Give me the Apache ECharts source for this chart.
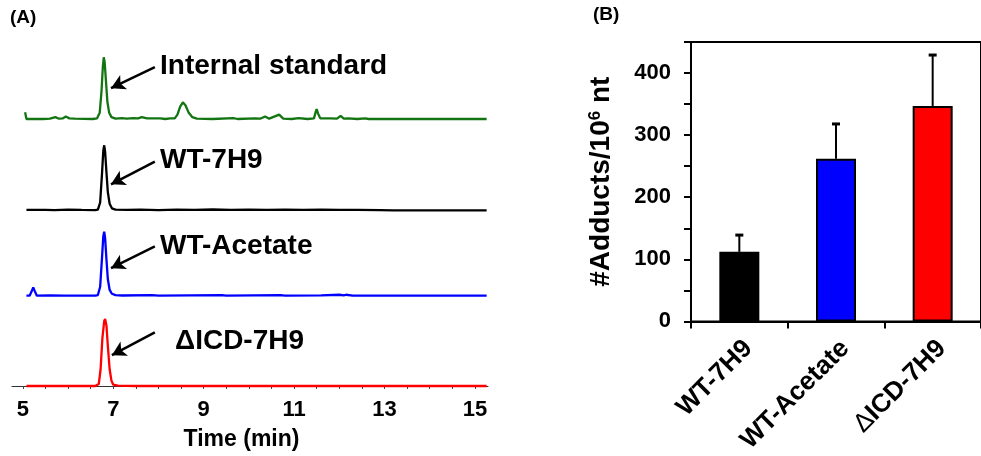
<!DOCTYPE html>
<html>
<head>
<meta charset="utf-8">
<script src="https://cdn.jsdelivr.net/npm/echarts@6/dist/echarts.min.js"></script>
<style>
  html, body { margin: 0; padding: 0; background: #fff; }
  #chart { width: 981px; height: 456px; }
</style>
</head>
<body>
<div id="chart"></div>
<script>
// ---- Panel A: chromatograms, [time (min), relative intensity (%)] ----
const standardTrace = [
  [5.05, 11], [5.08, 0], [5.45, 0], [5.6, 0.5], [5.72, 3], [5.8, 0.5], [5.88, 1], [5.95, 4],
  [6.03, 1], [6.15, 0.5], [6.55, 0], [6.64, 1], [6.70, 10], [6.74, 45], [6.77, 85], [6.79, 100],
  [6.81, 92], [6.84, 60], [6.87, 28], [6.91, 10], [6.96, 3], [7.05, 0.5], [7.19, 1.5], [7.3, 0.5],
  [7.44, 1.5], [7.55, 1], [7.63, 3], [7.75, 1], [8.04, 1], [8.15, 0], [8.26, 1], [8.36, 1],
  [8.42, 7], [8.48, 20], [8.54, 27], [8.6, 22], [8.67, 10], [8.75, 3], [8.85, 0.5], [9.2, 0],
  [9.66, 1.5], [9.75, 0], [10.14, 1], [10.25, 0.5], [10.36, 4], [10.45, 0.5], [10.67, 7],
  [10.76, 0.5], [10.95, 0], [11.1, 1.5], [11.3, 0], [11.44, 1], [11.48, 12], [11.5, 16],
  [11.53, 9], [11.58, 1], [11.8, 1], [11.95, 0.5], [12.03, 5], [12.1, 0.5], [12.2, 1],
  [12.4, 0], [12.57, 1], [12.65, 0], [15.26, 0]
];
const wt7h9Trace = [
  [5.08, 0.5], [5.5, 0.8], [5.7, 0.3], [6.0, 1], [6.3, 0.5], [6.6, 0.3], [6.66, 1], [6.71, 12],
  [6.75, 55], [6.78, 92], [6.80, 100], [6.82, 90], [6.85, 58], [6.88, 28], [6.92, 10], [6.97, 3],
  [7.05, 1], [7.3, 0.5], [7.6, 1], [8.0, 0.4], [8.4, 1], [8.8, 0.5], [9.2, 1.2], [9.6, 0.5],
  [10.0, 1], [10.4, 0.6], [10.8, 1], [11.2, 0.5], [11.6, 1], [12.0, 0.5], [12.4, 0.8],
  [12.9, 0.3], [13.2, 0], [15.26, 0]
];
const wtAcetateTrace = [
  [5.08, 0], [5.15, 0], [5.19, 6], [5.23, 13], [5.27, 6], [5.31, 0], [5.6, 0.5], [5.9, 0],
  [6.6, 0], [6.66, 1], [6.71, 14], [6.75, 58], [6.78, 93], [6.80, 100], [6.82, 90], [6.85, 56],
  [6.88, 26], [6.92, 9], [6.97, 3], [7.05, 1], [7.2, 0.3], [7.86, 1], [8.0, 0], [9.4, 0.8],
  [9.5, 0], [10.7, 0.8], [10.8, 0], [11.6, 0.5], [12.0, 1.5], [12.1, 0.5], [12.15, 1.5],
  [12.3, 0], [15.26, 0]
];
const dIcdTrace = [
  [5.08, 0], [6.6, 0], [6.68, 3], [6.72, 25], [6.76, 72], [6.80, 97], [6.82, 100], [6.85, 90],
  [6.88, 60], [6.92, 25], [6.96, 8], [7.0, 2], [7.1, 0.5], [7.5, 0], [15.26, 0]
];
const traceNames = ['Internal standard', 'WT-7H9', 'WT-Acetate', 'ΔICD-7H9'];
const timeTicks = [5, 5.5, 6, 6.5, 7, 7.5, 8, 8.5, 9, 9.5, 10, 10.5, 11, 11.5, 12, 12.5, 13, 13.5, 14, 14.5, 15];
const timeLabels = [5, 7, 9, 11, 13, 15];

// ---- Panel B: adduct counts ----
const groups = ['WT-7H9', 'WT-Acetate', 'ΔICD-7H9'];
const adducts = [112, 262, 347];
const adductErrors = [27, 56, 82];

const FONT = '"Liberation Sans", Arial, Helvetica, sans-serif';
const traceColors = ['#127512', '#000000', '#0000ff', '#ff0000'];
const barColors = ['#000000', '#0000ff', '#ff0000'];

// one strip per chromatogram, stacked top to bottom
const traceBoxes = [
  { top: 57.3, height: 61.7 },
  { top: 145.3, height: 65 },
  { top: 231.7, height: 64 },
  { top: 319, height: 67 }
];
const traceData = [standardTrace, wt7h9Trace, wtAcetateTrace, dIcdTrace];
const arrowEnds = [
  [[7.92, 84], [6.95, 50]],
  [[7.92, 75], [6.95, 40]],
  [[7.92, 77], [6.95, 43]],
  [[7.92, 80], [6.97, 46]]
];
const labelSpots = [
  { x: 160, y: 66 }, { x: 160, y: 160 }, { x: 160, y: 246 }, { x: 175, y: 341 }
];

const grids = [];
const xAxes = [];
const yAxes = [];
const series = [];

traceData.forEach((trace, i) => {
  grids.push({ left: 12, right: 493, top: traceBoxes[i].top, height: traceBoxes[i].height });
  const isLast = i === traceData.length - 1;
  xAxes.push({
    type: 'value', gridIndex: i, min: 4.76, max: 15.29,
    show: isLast, offset: isLast ? 3 : 0,
    splitLine: { show: false },
    axisLine: { show: true, lineStyle: { color: '#333', width: 1 } },
    axisTick: { show: true, length: 3, customValues: timeTicks, lineStyle: { color: '#444', width: 1 } },
    axisLabel: {
      customValues: timeLabels, margin: 10,
      fontFamily: FONT, fontWeight: 'bold', fontSize: 22, color: '#000'
    },
    name: isLast ? 'Time (min)' : '',
    nameLocation: 'middle', nameGap: 39,
    nameTextStyle: { fontFamily: FONT, fontWeight: 'bold', fontSize: 23, color: '#000', padding: [0, 17, 0, 0] }
  });
  yAxes.push({ type: 'value', gridIndex: i, min: 0, max: 100, show: false, splitLine: { show: false } });
  series.push({
    type: 'line', name: traceNames[i], xAxisIndex: i, yAxisIndex: i,
    data: trace, showSymbol: false, symbol: 'none', clip: false, animation: false,
    lineStyle: { color: traceColors[i], width: 2.3 },
    markLine: {
      silent: true, animation: false,
      symbol: ['none', 'arrow'], symbolSize: [12, 14],
      lineStyle: { color: '#000', width: 2.5, type: 'solid' },
      label: { show: false },
      data: [[{ coord: arrowEnds[i][0] }, { coord: arrowEnds[i][1] }]]
    }
  });
});

// bar panel
const B = traceData.length;
grids.push({ left: 691, right: -10, top: 42, bottom: 133.3, show: true, borderColor: '#000', borderWidth: 2 });
xAxes.push({
  type: 'category', gridIndex: B, data: groups,
  axisLine: { show: true, lineStyle: { color: '#000', width: 2 } },
  axisTick: { show: true, length: 7, lineStyle: { color: '#000', width: 2 } },
  axisLabel: {
    interval: 0, rotate: 45, margin: 14, verticalAlign: 'top',
    fontFamily: FONT, fontWeight: 'bold', fontSize: 26, color: '#000',
    formatter: v => v.replace('Δ', '{d|Δ}'),
    rich: { d: { fontFamily: FONT, fontWeight: 'normal', fontSize: 26, color: '#000' } }
  }
});
yAxes.push({
  type: 'value', gridIndex: B, min: 0, max: 450, interval: 50,
  splitLine: { show: false },
  axisLine: { show: true, lineStyle: { color: '#000', width: 2 } },
  axisTick: { show: true, length: 7, lineStyle: { color: '#000', width: 2 } },
  axisLabel: {
    margin: 20, fontFamily: FONT, fontWeight: 'bold', fontSize: 22, color: '#000',
    formatter: v => (v % 100 === 0 && v <= 400 ? String(v) : '')
  },
  name: '#Adducts/10{sup|6} nt',
  nameLocation: 'middle', nameRotate: 90, nameGap: 76,
  nameTextStyle: {
    fontFamily: FONT, fontWeight: 'bold', fontSize: 28, color: '#000',
    rich: { sup: { fontFamily: FONT, fontWeight: 'bold', fontSize: 17, color: '#000', verticalAlign: 'top', padding: [0, 0, 10, 0] } }
  }
});
series.push({
  type: 'bar', xAxisIndex: B, yAxisIndex: B, barWidth: 40, animation: false,
  data: adducts.map((v, i) => ({ value: v, itemStyle: { color: barColors[i] } })),
  itemStyle: { borderColor: '#000', borderWidth: 2 }
});
series.push({
  type: 'custom', xAxisIndex: B, yAxisIndex: B, animation: false, z: 3,
  data: adducts.map((v, i) => [i, v, v + adductErrors[i]]),
  encode: { x: 0, y: [1, 2] },
  renderItem: (params, api) => {
    const i = api.value(0);
    const base = api.coord([i, api.value(1)]);
    const top = api.coord([i, api.value(2)]);
    return {
      type: 'group',
      children: [
        { type: 'line', shape: { x1: base[0], y1: base[1], x2: top[0], y2: top[1] }, style: { stroke: '#000', lineWidth: 2 } },
        { type: 'line', shape: { x1: top[0] - 4, y1: top[1], x2: top[0] + 4, y2: top[1] }, style: { stroke: '#000', lineWidth: 3 } }
      ]
    };
  }
});

const graphics = traceNames.map((name, i) => ({
  type: 'text', x: labelSpots[i].x, y: labelSpots[i].y, silent: true,
  style: { text: name, font: 'bold 28px ' + FONT, fill: '#000', align: 'left', verticalAlign: 'middle' }
}));
graphics.push({ type: 'text', x: 10, y: 18, style: { text: '(A)', font: 'bold 19px ' + FONT, fill: '#000', verticalAlign: 'middle' } });
graphics.push({ type: 'text', x: 593, y: 15, style: { text: '(B)', font: 'bold 19px ' + FONT, fill: '#000', verticalAlign: 'middle' } });

const chart = echarts.init(document.getElementById('chart'), null, { renderer: 'canvas' });
chart.setOption({
  animation: false,
  backgroundColor: '#fff',
  grid: grids,
  xAxis: xAxes,
  yAxis: yAxes,
  series: series,
  graphic: graphics
});
</script>
</body>
</html>
